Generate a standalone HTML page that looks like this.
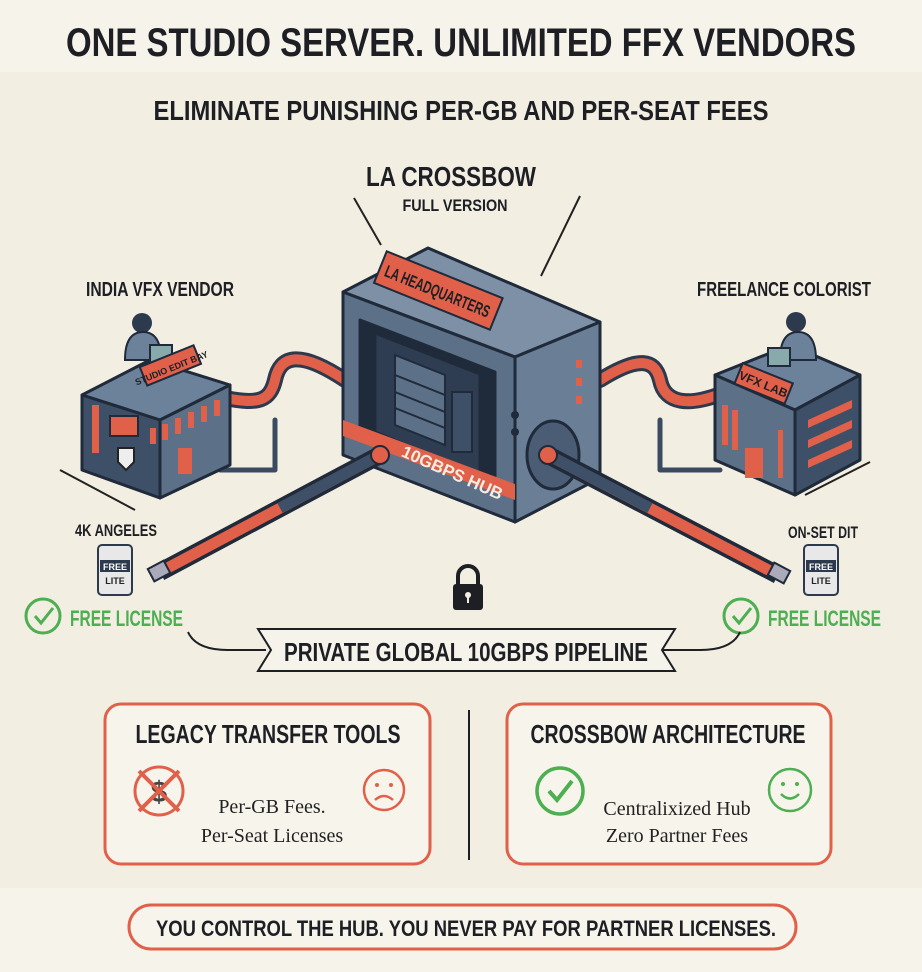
<!DOCTYPE html>
<html><head><meta charset="utf-8"><style>
html,body{margin:0;padding:0;background:#f2eee2;}
svg{display:block}
.t{font-family:"Liberation Sans Narrow","Liberation Sans",sans-serif;font-weight:bold;fill:#1d1f24}
.s{font-family:"Liberation Serif",serif;fill:#222}
</style></head><body>
<svg width="922" height="972" viewBox="0 0 922 972" xmlns="http://www.w3.org/2000/svg">
<rect width="922" height="972" fill="#f2eee2"/>
<rect width="922" height="72" fill="#f6f3ea"/>
<rect y="888" width="922" height="84" fill="#f6f3ea"/>
<text class="t" x="461" y="56" font-size="40" text-anchor="middle" textLength="790" lengthAdjust="spacingAndGlyphs">ONE STUDIO SERVER. UNLIMITED FFX VENDORS</text>
<text class="t" x="461" y="120" font-size="28" text-anchor="middle" textLength="615" lengthAdjust="spacingAndGlyphs">ELIMINATE PUNISHING PER-GB AND PER-SEAT FEES</text>
<text class="t" x="451" y="186" font-size="28" text-anchor="middle" textLength="170" lengthAdjust="spacingAndGlyphs">LA CROSSBOW</text>
<text class="t" x="455" y="211" font-size="17" text-anchor="middle" textLength="105" lengthAdjust="spacingAndGlyphs">FULL VERSION</text>
<line x1="354" y1="198" x2="381" y2="245" stroke="#222" stroke-width="2"/>
<line x1="580" y1="196" x2="541" y2="276" stroke="#222" stroke-width="2"/>
<text class="t" x="160" y="296" font-size="20" text-anchor="middle" textLength="148" lengthAdjust="spacingAndGlyphs">INDIA VFX VENDOR</text>
<text class="t" x="784" y="296" font-size="20" text-anchor="middle" textLength="174" lengthAdjust="spacingAndGlyphs">FREELANCE COLORIST</text>

<!-- pipes from buildings -->
<g fill="none" stroke-linecap="round" stroke-linejoin="round">
<path d="M225,398 C260,405 270,400 275,380 C280,355 300,350 345,380" stroke="#2d3a4d" stroke-width="16"/>
<path d="M225,398 C260,405 270,400 275,380 C280,355 300,350 345,380" stroke="#e0604a" stroke-width="10"/>
<path d="M600,380 C640,355 655,360 660,380 C665,405 690,405 718,395" stroke="#2d3a4d" stroke-width="16"/>
<path d="M600,380 C640,355 655,360 660,380 C665,405 690,405 718,395" stroke="#e0604a" stroke-width="10"/>
<path d="M275,420 L275,470 L220,470" stroke="#3a4a60" stroke-width="5"/>
<path d="M660,420 L660,470 L720,470" stroke="#3a4a60" stroke-width="5"/>
</g>

<!-- left building -->
<g stroke="#1f2a3a" stroke-width="3" stroke-linejoin="round">
<polygon points="82,395 150,360 230,385 160,420" fill="#6c819a"/>
<polygon points="82,395 160,420 160,498 82,470" fill="#3e5068"/>
<polygon points="160,420 230,385 230,465 160,498" fill="#5c7088"/>
</g>
<rect x="92" y="405" width="7" height="48" fill="#e0604a"/>
<g fill="#e0604a"><rect x="150" y="428" width="6" height="16"/><rect x="162" y="424" width="6" height="16"/><rect x="175" y="418" width="6" height="16"/><rect x="188" y="412" width="6" height="16"/><rect x="201" y="406" width="6" height="16"/><rect x="214" y="400" width="6" height="16"/><rect x="178" y="448" width="14" height="26"/></g>
<rect x="110" y="416" width="28" height="20" fill="#e0604a" stroke="#1f2a3a" stroke-width="2"/>
<path d="M118,448 h16 v14 l-8,8 l-8,-8z" fill="#eee" stroke="#222" stroke-width="2"/>
<circle cx="142" cy="323" r="10" fill="#2d3a4d"/><path d="M125,360 q0,-28 18,-28 q18,0 18,28z" fill="#6c819a" stroke="#1f2a3a" stroke-width="2"/>
<rect x="150" y="345" width="22" height="18" fill="#8aa" stroke="#1f2a3a" stroke-width="2"/>
<g transform="translate(145,380) rotate(-22)"><rect x="0" y="-14" width="58" height="20" fill="#e0604a" stroke="#1f2a3a" stroke-width="2"/><text class="t" x="29" y="2" font-size="9" text-anchor="middle">STUDIO EDIT BAY</text></g>
<line x1="60" y1="470" x2="135" y2="510" stroke="#222" stroke-width="2"/>

<!-- right building -->
<g stroke="#1f2a3a" stroke-width="3" stroke-linejoin="round">
<polygon points="715,375 790,345 860,375 795,410" fill="#6c819a"/>
<polygon points="715,375 795,410 795,495 715,460" fill="#5c7088"/>
<polygon points="795,410 860,375 860,460 795,495" fill="#3e5068"/>
</g>
<g fill="#e0604a"><rect x="722" y="405" width="6" height="40"/><rect x="732" y="410" width="6" height="40"/><rect x="778" y="430" width="5" height="48"/><rect x="745" y="448" width="18" height="30"/>
<polygon points="808,420 852,400 852,408 808,428"/><polygon points="808,440 852,420 852,428 808,448"/><polygon points="808,460 852,440 852,448 808,468"/></g>
<circle cx="796" cy="322" r="10" fill="#2d3a4d"/><path d="M780,360 q0,-28 18,-28 q18,0 18,28z" fill="#6c819a" stroke="#1f2a3a" stroke-width="2"/>
<rect x="768" y="348" width="22" height="18" fill="#8aa" stroke="#1f2a3a" stroke-width="2"/>
<g transform="translate(742,365) rotate(22)"><rect x="0" y="-2" width="54" height="22" fill="#e0604a" stroke="#1f2a3a" stroke-width="2"/><text class="t" x="27" y="14" font-size="12" text-anchor="middle">VFX LAB</text></g>
<line x1="805" y1="495" x2="870" y2="462" stroke="#222" stroke-width="2"/>

<!-- hub -->
<g stroke="#1f2a3a" stroke-width="3" stroke-linejoin="round">
<polygon points="343,292 428,248 600,322 515,357" fill="#7d90a6"/>
<polygon points="343,292 515,357 515,522 343,455" fill="#5c7088"/>
<polygon points="515,357 600,322 600,478 515,522" fill="#6a7e96"/>
<polygon points="360,320 495,372 495,490 360,440" fill="#1f2a3a"/>
<polygon points="375,333 480,374 480,475 375,432" fill="#2e3d52"/>
</g>
<polygon points="343,420 515,484 515,500 343,436" fill="#e0604a"/>
<g stroke="#1f2a3a" stroke-width="2">
<polygon points="395,355 445,375 445,445 395,425" fill="#5c7088"/>
<line x1="395" y1="375" x2="445" y2="395"/><line x1="395" y1="392" x2="445" y2="412"/><line x1="395" y1="408" x2="445" y2="428"/>
<rect x="452" y="392" width="20" height="60" fill="#3e5068"/>
</g>
<g fill="#e0604a"><rect x="576" y="360" width="6" height="8"/><rect x="576" y="378" width="6" height="8"/><rect x="576" y="396" width="6" height="8"/></g>
<circle cx="515" cy="415" r="4" fill="#1f2a3a"/><circle cx="515" cy="432" r="4" fill="#1f2a3a"/>
<g transform="translate(380,268) rotate(22)"><rect x="0" y="-18" width="125" height="34" fill="#e0604a" stroke="#1f2a3a" stroke-width="2"/><text class="t" x="62" y="6" font-size="17" text-anchor="middle" textLength="112" lengthAdjust="spacingAndGlyphs">LA HEADQUARTERS</text></g>
<g transform="translate(450,478) rotate(24)"><text x="0" y="0" font-family="Liberation Sans Narrow,Liberation Sans,sans-serif" font-weight="bold" font-size="17" fill="#f2eee2" text-anchor="middle">10GBPS HUB</text></g>
<ellipse cx="553" cy="455" rx="26" ry="34" fill="#4b5d74" stroke="#1f2a3a" stroke-width="3"/>

<!-- diagonal cables -->
<g stroke-linecap="butt">
<line x1="380" y1="455" x2="160" y2="572" stroke="#1f2a3a" stroke-width="18"/>
<line x1="380" y1="455" x2="160" y2="572" stroke="#e0604a" stroke-width="11"/>
<line x1="380" y1="455" x2="280" y2="508" stroke="#3e5068" stroke-width="11"/>
<line x1="548" y1="455" x2="778" y2="575" stroke="#1f2a3a" stroke-width="18"/>
<line x1="548" y1="455" x2="778" y2="575" stroke="#e0604a" stroke-width="11"/>
<line x1="548" y1="455" x2="650" y2="508" stroke="#3e5068" stroke-width="11"/>
</g>
<circle cx="380" cy="455" r="9" fill="#e0604a" stroke="#1f2a3a" stroke-width="2"/>
<circle cx="548" cy="455" r="9" fill="#e0604a" stroke="#1f2a3a" stroke-width="2"/>
<rect x="150" y="564" width="18" height="14" fill="#aab" stroke="#1f2a3a" stroke-width="2" transform="rotate(-28 159 571)"/>
<rect x="770" y="566" width="18" height="14" fill="#aab" stroke="#1f2a3a" stroke-width="2" transform="rotate(28 779 573)"/>

<text class="t" x="75" y="536" font-size="17" textLength="82" lengthAdjust="spacingAndGlyphs">4K ANGELES</text>
<text class="t" x="788" y="538" font-size="17" textLength="70" lengthAdjust="spacingAndGlyphs">ON-SET DIT</text>
<g>
<rect x="98" y="545" width="34" height="50" rx="4" fill="#e8e8e8" stroke="#2d3a4d" stroke-width="2"/>
<rect x="100" y="560" width="30" height="12" fill="#2d3a4d"/>
<text x="115" y="570" font-family="Liberation Sans Narrow,sans-serif" font-size="9" font-weight="bold" fill="#fff" text-anchor="middle">FREE</text>
<text x="115" y="584" font-family="Liberation Sans Narrow,sans-serif" font-size="9" font-weight="bold" fill="#222" text-anchor="middle">LITE</text>
<rect x="804" y="545" width="34" height="50" rx="4" fill="#e8e8e8" stroke="#2d3a4d" stroke-width="2"/>
<rect x="806" y="560" width="30" height="12" fill="#2d3a4d"/>
<text x="821" y="570" font-family="Liberation Sans Narrow,sans-serif" font-size="9" font-weight="bold" fill="#fff" text-anchor="middle">FREE</text>
<text x="821" y="584" font-family="Liberation Sans Narrow,sans-serif" font-size="9" font-weight="bold" fill="#222" text-anchor="middle">LITE</text>
</g>
<g fill="none" stroke="#4caf50" stroke-width="3">
<circle cx="43" cy="616" r="17"/><path d="M35,616 l6,7 l12,-15"/>
<circle cx="741" cy="616" r="17"/><path d="M733,616 l6,7 l12,-15"/>
</g>
<text x="70" y="626" font-family="Liberation Sans Narrow,Liberation Sans,sans-serif" font-weight="bold" font-size="22" fill="#4caf50" textLength="113" lengthAdjust="spacingAndGlyphs">FREE LICENSE</text>
<text x="768" y="626" font-family="Liberation Sans Narrow,Liberation Sans,sans-serif" font-weight="bold" font-size="22" fill="#4caf50" textLength="113" lengthAdjust="spacingAndGlyphs">FREE LICENSE</text>
<!-- lock -->
<path d="M458,584 v-8 a10,10 0 0 1 20,0 v8" fill="none" stroke="#1d1f24" stroke-width="4"/>
<rect x="453" y="584" width="30" height="26" rx="3" fill="#1d1f24"/>
<circle cx="468" cy="595" r="3" fill="#f2eee2"/><rect x="467" y="596" width="2" height="7" fill="#f2eee2"/>
<!-- banner -->
<path d="M188,632 q8,18 40,18 h38 M740,632 q-8,18 -40,18 h-40" fill="none" stroke="#1d1f24" stroke-width="2"/>
<polygon points="258,629 675,629 662,650 675,671 258,671 271,650" fill="#f6f3ea" stroke="#1d1f24" stroke-width="2"/>
<text class="t" x="466" y="661" font-size="26" text-anchor="middle" textLength="364" lengthAdjust="spacingAndGlyphs">PRIVATE GLOBAL 10GBPS PIPELINE</text>
<!-- bottom panels -->
<rect x="105" y="704" width="325" height="160" rx="16" fill="#f7f4ec" stroke="#e0604a" stroke-width="3"/>
<rect x="507" y="704" width="324" height="160" rx="16" fill="#f7f4ec" stroke="#e0604a" stroke-width="3"/>
<line x1="469" y1="710" x2="469" y2="860" stroke="#1d1f24" stroke-width="2"/>
<text class="t" x="268" y="743" font-size="26" text-anchor="middle" textLength="265" lengthAdjust="spacingAndGlyphs">LEGACY TRANSFER TOOLS</text>
<text class="t" x="668" y="743" font-size="26" text-anchor="middle" textLength="275" lengthAdjust="spacingAndGlyphs">CROSSBOW ARCHITECTURE</text>
<circle cx="159" cy="791" r="24" fill="none" stroke="#e0604a" stroke-width="3"/>
<text x="159" y="802" font-family="Liberation Sans,sans-serif" font-size="30" font-weight="bold" fill="#444" text-anchor="middle">$</text>
<path d="M139,771 l40,40 M179,771 l-40,40" stroke="#e0604a" stroke-width="4"/>
<circle cx="384" cy="790" r="20" fill="none" stroke="#e0604a" stroke-width="2.5"/>
<circle cx="377" cy="785" r="2" fill="#e0604a"/><circle cx="391" cy="785" r="2" fill="#e0604a"/>
<path d="M375,800 q9,-8 18,0" fill="none" stroke="#e0604a" stroke-width="2.5"/>
<text class="s" x="272" y="813" font-size="20" text-anchor="middle">Per-GB Fees.</text>
<text class="s" x="272" y="842" font-size="20" text-anchor="middle">Per-Seat Licenses</text>
<circle cx="560" cy="791" r="23" fill="none" stroke="#4caf50" stroke-width="3.5"/><path d="M549,791 l8,9 l15,-19" fill="none" stroke="#4caf50" stroke-width="4"/>
<circle cx="790" cy="790" r="21" fill="none" stroke="#4caf50" stroke-width="2.5"/>
<circle cx="783" cy="784" r="2" fill="#4caf50"/><circle cx="797" cy="784" r="2" fill="#4caf50"/>
<path d="M781,794 q9,9 18,0" fill="none" stroke="#4caf50" stroke-width="2.5"/>
<text class="s" x="677" y="815" font-size="20" text-anchor="middle">Centralixized Hub</text>
<text class="s" x="677" y="842" font-size="20" text-anchor="middle">Zero Partner Fees</text>
<rect x="129" y="905" width="667" height="44" rx="22" fill="#f7f4ec" stroke="#e0604a" stroke-width="3"/>
<text class="t" x="466" y="936" font-size="22" text-anchor="middle" textLength="620" lengthAdjust="spacingAndGlyphs">YOU CONTROL THE HUB.  YOU NEVER PAY FOR PARTNER LICENSES.</text>
</svg>
</body></html>
